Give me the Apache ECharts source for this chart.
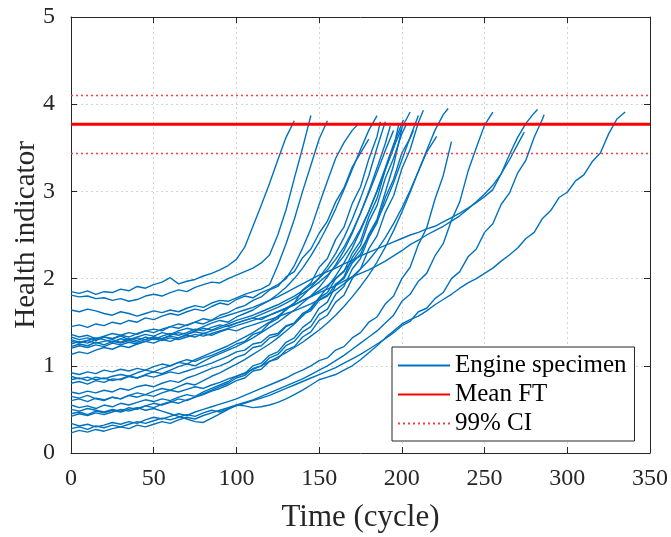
<!DOCTYPE html>
<html>
<head>
<meta charset="utf-8">
<script src="https://cdn.jsdelivr.net/npm/echarts@6/dist/echarts.min.js"></script>
<style>html,body{margin:0;padding:0;background:#fff;}#chart{width:671px;height:537px;}</style>
</head>
<body>
<div id="chart"></div>
<script>
// Shared cycle grid (cycles at which specimen values are read)
const cycles = [0,5,10,15,20,25,30,35,40,45,50,55,60,65,70,75,80,85,90,95,100,105,110,115,120,125,130,135,140,145,150,155,160,165,170,175,180,185,190,195,200,205,210,215,220,225,230,235,240,245,250,255,260,265,270,275,280,285,290,295,300,305,310,315,320,325,330,335];
// Final cycle of each specimen (its last value is placed there)
const endCycles = [135,145,155,173,180,185,187,190,193,195,198,200,201,203,205,207,210,213,221,228,230,255,274,282,286,335];

const specimen01 = [1.85,1.83,1.86,1.82,1.85,1.84,1.88,1.86,1.91,1.89,1.93,1.96,2.01,1.94,1.97,1.99,2.03,2.06,2.10,2.15,2.22,2.36,2.60,2.84,3.09,3.36,3.62,3.81];
const specimen02 = [1.81,1.79,1.80,1.77,1.78,1.75,1.77,1.74,1.76,1.80,1.82,1.80,1.84,1.87,1.85,1.90,1.93,1.96,1.95,2.00,2.04,2.08,2.12,2.18,2.27,2.50,2.79,3.15,3.50,3.87];
const specimen03 = [1.64,1.62,1.65,1.63,1.60,1.58,1.62,1.60,1.57,1.60,1.63,1.61,1.64,1.62,1.66,1.69,1.67,1.72,1.75,1.74,1.78,1.82,1.85,1.88,1.93,2.15,2.40,2.68,3.00,3.30,3.60,3.81];
const specimen04 = [1.45,1.47,1.44,1.48,1.46,1.50,1.48,1.52,1.50,1.55,1.53,1.57,1.60,1.58,1.62,1.65,1.63,1.68,1.72,1.70,1.76,1.80,1.78,1.84,1.88,1.93,2.00,2.15,2.35,2.57,2.85,3.12,3.38,3.56,3.70,3.76];
const specimen05 = [1.36,1.33,1.35,1.31,1.34,1.37,1.35,1.38,1.36,1.40,1.42,1.40,1.45,1.48,1.46,1.50,1.54,1.52,1.58,1.61,1.66,1.69,1.75,1.79,1.87,1.91,2.02,2.08,2.24,2.34,2.52,2.66,2.88,3.04,3.28,3.44,3.60];
const specimen06 = [1.33,1.30,1.32,1.29,1.33,1.31,1.34,1.30,1.33,1.36,1.34,1.38,1.36,1.40,1.43,1.41,1.45,1.49,1.52,1.50,1.56,1.60,1.64,1.70,1.75,1.82,1.90,2.00,2.12,2.26,2.42,2.60,2.80,3.02,3.25,3.48,3.70,3.87];
const specimen07 = [0.92,0.90,0.93,0.91,0.95,0.93,0.96,0.94,0.97,0.95,0.99,1.02,1.00,1.04,1.07,1.05,1.09,1.12,1.16,1.20,1.25,1.28,1.36,1.39,1.49,1.54,1.66,1.72,1.87,1.95,2.13,2.23,2.45,2.59,2.86,3.05,3.37,3.63,3.80];
const specimen08 = [0.84,0.86,0.83,0.87,0.85,0.88,0.90,0.88,0.92,0.95,0.93,0.97,1.00,1.04,1.02,1.07,1.11,1.15,1.19,1.23,1.28,1.33,1.38,1.44,1.50,1.57,1.64,1.72,1.80,1.90,2.01,2.14,2.29,2.47,2.68,2.92,3.18,3.50,3.80];
const specimen09 = [0.80,0.82,0.79,0.83,0.81,0.85,0.84,0.88,0.86,0.90,0.93,0.91,0.95,0.99,1.02,1.00,1.05,1.10,1.14,1.18,1.22,1.27,1.32,1.38,1.44,1.50,1.57,1.64,1.72,1.80,1.90,2.02,2.16,2.32,2.52,2.75,3.00,3.27,3.55,3.75];
const specimen10 = [1.22,1.25,1.23,1.27,1.24,1.28,1.26,1.29,1.32,1.30,1.33,1.31,1.35,1.38,1.36,1.40,1.43,1.41,1.45,1.48,1.52,1.55,1.58,1.62,1.66,1.70,1.75,1.80,1.86,1.93,2.00,2.10,2.22,2.36,2.54,2.75,2.98,3.22,3.47,3.70];
const specimen11 = [0.70,0.68,0.71,0.69,0.72,0.70,0.74,0.72,0.76,0.78,0.76,0.80,0.83,0.81,0.86,0.89,0.93,0.97,1.00,1.04,1.10,1.13,1.21,1.23,1.32,1.35,1.45,1.49,1.60,1.65,1.78,1.84,2.00,2.08,2.29,2.43,2.71,2.92,3.25,3.50,3.76];
const specimen12 = [0.88,0.85,0.87,0.84,0.86,0.83,0.85,0.88,0.86,0.89,0.87,0.90,0.93,0.91,0.94,0.97,1.00,1.03,1.07,1.11,1.16,1.18,1.25,1.27,1.35,1.37,1.46,1.49,1.59,1.63,1.75,1.80,1.94,2.00,2.18,2.28,2.51,2.68,2.99,3.30,3.72];
const specimen13 = [0.65,0.63,0.66,0.62,0.60,0.64,0.62,0.66,0.69,0.67,0.71,0.74,0.72,0.76,0.80,0.78,0.83,0.88,0.92,0.97,1.02,1.07,1.13,1.19,1.25,1.32,1.40,1.48,1.57,1.67,1.78,1.90,2.03,2.18,2.35,2.55,2.77,3.01,3.27,3.54,3.78,3.82];
const specimen14 = [0.55,0.52,0.54,0.51,0.55,0.53,0.57,0.55,0.58,0.61,0.59,0.62,0.60,0.64,0.67,0.65,0.70,0.74,0.78,0.82,0.88,0.91,1.00,1.03,1.12,1.16,1.27,1.32,1.44,1.51,1.66,1.73,1.92,2.02,2.24,2.38,2.65,2.84,3.15,3.38,3.66,3.78];
const specimen15 = [1.28,1.26,1.29,1.32,1.30,1.27,1.31,1.29,1.27,1.30,1.33,1.31,1.34,1.32,1.36,1.39,1.37,1.40,1.43,1.46,1.49,1.52,1.55,1.59,1.63,1.67,1.72,1.77,1.83,1.89,1.96,2.04,2.14,2.26,2.40,2.57,2.77,3.00,3.25,3.50,3.73,3.91];
const specimen16 = [0.42,0.45,0.43,0.46,0.44,0.47,0.50,0.48,0.51,0.54,0.52,0.56,0.59,0.57,0.61,0.64,0.68,0.72,0.76,0.80,0.86,0.89,0.97,1.00,1.09,1.13,1.23,1.28,1.39,1.45,1.59,1.65,1.82,1.91,2.11,2.23,2.47,2.64,2.93,3.14,3.44,3.61,3.70];
const specimen17 = [1.20,1.23,1.21,1.24,1.22,1.26,1.24,1.27,1.25,1.28,1.31,1.29,1.32,1.30,1.33,1.36,1.34,1.37,1.40,1.43,1.46,1.49,1.52,1.55,1.58,1.62,1.66,1.70,1.75,1.80,1.86,1.92,2.00,2.09,2.20,2.33,2.48,2.66,2.87,3.10,3.36,3.62,3.87];
const specimen18 = [0.50,0.48,0.51,0.49,0.47,0.50,0.48,0.52,0.50,0.54,0.57,0.55,0.58,0.62,0.60,0.64,0.67,0.71,0.74,0.78,0.83,0.86,0.94,0.96,1.05,1.08,1.18,1.22,1.33,1.39,1.52,1.58,1.73,1.81,2.00,2.11,2.34,2.49,2.76,2.95,3.26,3.48,3.79,3.93];
const specimen19 = [0.60,0.62,0.59,0.63,0.61,0.64,0.62,0.66,0.64,0.67,0.65,0.69,0.72,0.70,0.73,0.76,0.74,0.78,0.81,0.85,0.88,0.92,0.96,1.00,1.05,1.10,1.15,1.21,1.27,1.34,1.41,1.49,1.58,1.68,1.79,1.91,2.04,2.19,2.36,2.55,2.76,2.99,3.23,3.45,3.60,3.63];
const specimen20 = [1.13,1.16,1.14,1.18,1.21,1.19,1.23,1.21,1.25,1.28,1.26,1.30,1.28,1.32,1.35,1.33,1.37,1.35,1.39,1.42,1.40,1.44,1.47,1.50,1.53,1.56,1.60,1.63,1.67,1.71,1.76,1.81,1.87,1.94,2.02,2.11,2.21,2.33,2.47,2.63,2.81,3.01,3.23,3.47,3.70,3.88,3.95];
const specimen21 = [0.34,0.31,0.33,0.30,0.32,0.35,0.33,0.36,0.34,0.38,0.41,0.39,0.42,0.45,0.43,0.47,0.50,0.53,0.56,0.59,0.62,0.66,0.70,0.74,0.78,0.82,0.86,0.91,0.95,1.00,1.06,1.09,1.18,1.22,1.32,1.38,1.50,1.56,1.71,1.80,2.00,2.13,2.39,2.58,2.91,3.18,3.57];
const specimen22 = [0.23,0.26,0.24,0.27,0.25,0.28,0.30,0.28,0.32,0.30,0.33,0.36,0.34,0.38,0.41,0.39,0.43,0.46,0.49,0.52,0.55,0.58,0.61,0.65,0.69,0.73,0.77,0.81,0.85,0.90,0.95,1.00,1.06,1.12,1.19,1.26,1.33,1.40,1.49,1.58,1.74,1.82,1.97,2.06,2.26,2.40,2.67,2.88,3.23,3.50,3.76,3.91];
const specimen23 = [1.30,1.27,1.29,1.26,1.28,1.30,1.27,1.31,1.29,1.33,1.30,1.34,1.37,1.35,1.38,1.42,1.40,1.44,1.47,1.45,1.49,1.52,1.55,1.53,1.58,1.62,1.66,1.70,1.75,1.79,1.84,1.88,1.92,1.97,2.02,2.06,2.10,2.15,2.20,2.26,2.32,2.39,2.44,2.50,2.55,2.60,2.66,2.72,2.80,2.88,2.97,3.07,3.20,3.36,3.54,3.68];
const specimen24 = [1.25,1.28,1.26,1.30,1.33,1.31,1.35,1.33,1.37,1.40,1.38,1.42,1.45,1.43,1.47,1.50,1.48,1.52,1.55,1.58,1.61,1.64,1.67,1.71,1.75,1.79,1.84,1.89,1.94,1.99,2.04,2.08,2.12,2.17,2.21,2.26,2.30,2.34,2.38,2.42,2.46,2.50,2.53,2.57,2.60,2.65,2.70,2.75,2.81,2.87,2.94,3.02,3.20,3.42,3.62,3.78,3.90,3.94];
const specimen25 = [0.28,0.30,0.27,0.31,0.29,0.32,0.30,0.33,0.36,0.34,0.37,0.40,0.38,0.41,0.44,0.42,0.46,0.49,0.47,0.51,0.54,0.57,0.60,0.63,0.66,0.70,0.74,0.78,0.82,0.86,0.90,0.94,0.98,1.03,1.08,1.13,1.19,1.25,1.31,1.38,1.46,1.51,1.62,1.66,1.77,1.84,2.00,2.08,2.25,2.34,2.53,2.63,2.85,2.98,3.21,3.36,3.62,3.83,3.88];
const specimen26 = [0.45,0.47,0.44,0.48,0.46,0.49,0.47,0.50,0.52,0.49,0.51,0.48,0.45,0.42,0.39,0.36,0.35,0.40,0.45,0.50,0.55,0.54,0.52,0.53,0.55,0.58,0.62,0.67,0.72,0.78,0.84,0.87,0.90,0.95,1.00,1.07,1.15,1.23,1.32,1.40,1.48,1.53,1.57,1.63,1.70,1.76,1.82,1.89,1.95,2.00,2.06,2.12,2.20,2.27,2.35,2.46,2.53,2.69,2.78,2.93,2.99,3.12,3.19,3.34,3.44,3.66,3.83,3.91];

const meanFT = 3.77;
const ciBounds = [3.44, 4.10];
const axisRange = { xMin: 0, xMax: 350, xStep: 50, yMin: 0, yMax: 5, yStep: 1 };

const specimens = [specimen01,specimen02,specimen03,specimen04,specimen05,specimen06,specimen07,specimen08,specimen09,specimen10,specimen11,specimen12,specimen13,specimen14,specimen15,specimen16,specimen17,specimen18,specimen19,specimen20,specimen21,specimen22,specimen23,specimen24,specimen25,specimen26];

const FONT = 'Liberation Serif, Times New Roman, serif';
const AX = '#262626';
const BLUE = '#0072BD';
const RED = '#FF0000';
const CIRED = '#FF3B3B';

const series = specimens.map((vals, k) => ({
  type: 'line',
  name: 'Engine specimen',
  data: vals.map((v, i) => [i === vals.length - 1 ? endCycles[k] : cycles[i], v]),
  symbol: 'none',
  showSymbol: false,
  lineStyle: { color: BLUE, width: 1.4 },
  itemStyle: { color: BLUE },
  z: 2,
  silent: true
}));

series.push({
  type: 'line', name: 'Mean FT',
  data: [[axisRange.xMin, meanFT], [axisRange.xMax, meanFT]],
  symbol: 'none', lineStyle: { color: RED, width: 2.8 }, itemStyle: { color: RED }, z: 4, silent: true
});
series.push({
  type: 'line', name: '99% CI',
  data: [],
  symbol: 'none', lineStyle: { color: CIRED, width: 1.3, type: [2, 3] }, itemStyle: { color: CIRED }, z: 3, silent: true,
  markLine: {
    silent: true, symbol: ['none', 'none'], animation: false,
    label: { show: false },
    lineStyle: { color: CIRED, width: 1.3, type: [2, 3] },
    data: ciBounds.map(b => ({ yAxis: b }))
  }
});

const tick = { show: true, inside: true, length: 6, lineStyle: { color: AX } };
const line = { show: true, onZero: false, lineStyle: { color: AX, width: 1 } };
const split = { show: true, lineStyle: { color: '#d4d4d4', type: [2, 3], width: 1 } };

const chart = echarts.init(document.getElementById('chart'), null, { renderer: 'canvas' });
chart.setOption({
  animation: false,
  backgroundColor: '#fff',
  grid: { left: 71, right: 21, top: 17, bottom: 84, containLabel: false, outerBoundsMode: 'none' },
  legend: {
    data: ['Engine specimen', 'Mean FT', '99% CI'],
    orient: 'vertical', left: 392, top: 347,
    itemWidth: 52, itemHeight: 14, itemGap: 4, itemTextGap: 5,
    padding: [6, 8, 5, 5],
    itemStyle: { opacity: 0 },
    backgroundColor: '#fff', borderColor: AX, borderWidth: 1, borderRadius: 0,
    textStyle: { fontFamily: FONT, fontSize: 25, color: '#000' },
    z: 10
  },
  xAxis: [
    { type: 'value', position: 'bottom', min: axisRange.xMin, max: axisRange.xMax, interval: axisRange.xStep,
      axisLine: line, axisTick: tick, splitLine: split,
      axisLabel: { fontFamily: FONT, fontSize: 24, color: AX, margin: 14 },
      name: 'Time (cycle)', nameLocation: 'middle', nameGap: 49, nameMoveOverlap: false,
      nameTextStyle: { fontFamily: FONT, fontSize: 31, color: AX } },
    { type: 'value', position: 'top', min: axisRange.xMin, max: axisRange.xMax, interval: axisRange.xStep,
      axisLine: line, axisTick: tick, splitLine: { show: false }, axisLabel: { show: false } }
  ],
  yAxis: [
    { type: 'value', position: 'left', min: axisRange.yMin, max: axisRange.yMax, interval: axisRange.yStep,
      axisLine: line, axisTick: tick, splitLine: split,
      axisLabel: { fontFamily: FONT, fontSize: 24, color: AX, margin: 16 },
      name: 'Health indicator', nameLocation: 'middle', nameGap: 30, nameMoveOverlap: false,
      nameTextStyle: { fontFamily: FONT, fontSize: 29, color: AX } },
    { type: 'value', position: 'right', min: axisRange.yMin, max: axisRange.yMax, interval: axisRange.yStep,
      axisLine: line, axisTick: tick, splitLine: { show: false }, axisLabel: { show: false } }
  ],
  series: series
});
</script>
</body>
</html>
